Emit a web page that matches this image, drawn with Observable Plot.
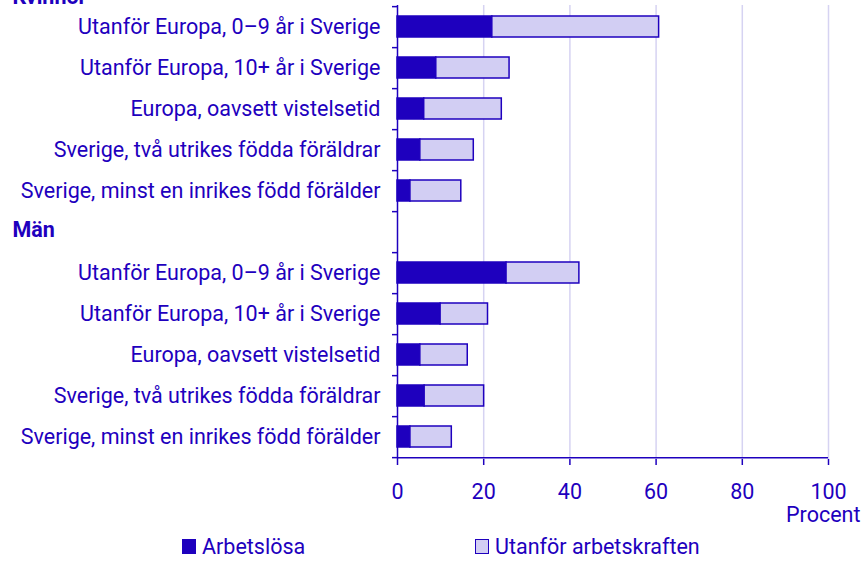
<!DOCTYPE html>
<html>
<head>
<meta charset="utf-8">
<script src="https://cdn.jsdelivr.net/npm/d3@7"></script>
<script src="https://cdn.jsdelivr.net/npm/@observablehq/plot@0.6"></script>
<style>
  html, body { margin: 0; padding: 0; background: white; }
  body { width: 864px; height: 562px; overflow: hidden; font-family: Roboto, sans-serif; color: #1e00be; }
  .legend { position: relative; height: 32px; font-size: 21.5px; }
  .item { position: absolute; top: 0; display: flex; align-items: center; height: 32px; }
  .sw { width: 12px; height: 13px; border: 1.5px solid #1e00be; margin-right: 6px; }
</style>
</head>
<body>
<div id="chart"></div>
<div class="legend" id="legend"></div>
<script>
const categories = [
  "Utanför Europa, 0–9 år i Sverige",
  "Utanför Europa, 10+ år i Sverige",
  "Europa, oavsett vistelsetid",
  "Sverige, två utrikes födda föräldrar",
  "Sverige, minst en inrikes född förälder"
];
const groups = ["Kvinnor", "Män"];
const series = ["Arbetslösa", "Utanför arbetskraften"];
const womenUnemployed = [22.0, 9.0, 6.2, 5.3, 3.0];
const womenOutside    = [38.7, 17.0, 18.0, 12.4, 11.8];
const menUnemployed   = [25.3, 10.0, 5.3, 6.3, 3.0];
const menOutside      = [16.9, 11.0, 11.0, 13.8, 9.6];
const xTicks = [0, 20, 40, 60, 80, 100];

const dark = "#1e00be";
const light = "#d2cef3";
const grid = "#d6d3f2";
const fs = 21.5;

const rows = [];
const catKeys = [];
const data = [];
const groupVals = [[womenUnemployed, womenOutside], [menUnemployed, menOutside]];
groups.forEach((g, gi) => {
  rows.push(g);
  categories.forEach((c, ci) => {
    const key = g + "|" + c;
    rows.push(key);
    catKeys.push(key);
    data.push({key, series: series[0], value: groupVals[gi][0][ci]});
    data.push({key, series: series[1], value: groupVals[gi][1][ci]});
  });
});

const W = 864, H = 530, mt = -36.3, mb = 71, ml = 397, mr = 36;
const step = (H - mb - mt) / rows.length;

const chart = Plot.plot({
  width: W, height: H,
  marginTop: mt, marginBottom: mb, marginLeft: ml, marginRight: mr,
  style: {fontFamily: "Roboto, sans-serif", fontSize: fs + "px", color: dark, background: "white", overflow: "visible"},
  x: {domain: [0, 100], label: null},
  y: {domain: rows, padding: 0, label: null},
  color: {domain: series, range: [dark, light]},
  marks: [
    Plot.ruleX(xTicks.slice(1), {stroke: grid, strokeWidth: 1.5, insetTop: step}),
    Plot.barX(data, {x: "value", y: "key", fill: "series", stroke: dark, strokeWidth: 1.5, insetTop: 10, insetBottom: 10}),
    Plot.ruleX([0], {stroke: dark, strokeWidth: 1.5, insetTop: step}),
    Plot.ruleY([rows[rows.length - 1]], {stroke: dark, strokeWidth: 1.5, dy: step / 2}),
    Plot.axisY({ticks: rows, tickSize: 5, text: null, dy: step / 2, strokeWidth: 1.5, label: null}),
    Plot.axisY({ticks: catKeys, tickSize: 0, tickPadding: 17, tickFormat: k => k.split("|")[1], fontSize: fs, label: null}),
    Plot.text([groups[0]], {y: d => d, frameAnchor: "left", textAnchor: "start", dx: -385, dy: 11.6, fontWeight: "bold", fontSize: fs, fill: dark}),
    Plot.text([groups[1]], {y: d => d, frameAnchor: "left", textAnchor: "start", dx: -385, dy: -1.5, fontWeight: "bold", fontSize: fs, fill: dark}),
    Plot.axisX({ticks: xTicks, tickSize: 6, tickPadding: 18, strokeWidth: 1.5, fontSize: fs, label: null}),
    Plot.text(["Procent"], {frameAnchor: "bottom-right", textAnchor: "end", lineAnchor: "bottom", dx: 32, dy: 62, fontSize: fs, fill: dark})
  ]
});
document.getElementById("chart").appendChild(chart);

const legend = document.getElementById("legend");
const lefts = [182, 475];
series.forEach((s, i) => {
  const item = document.createElement("div");
  item.className = "item";
  item.style.left = lefts[i] + "px";
  const sw = document.createElement("div");
  sw.className = "sw";
  sw.style.background = i === 0 ? dark : light;
  const t = document.createElement("span");
  t.textContent = s;
  item.appendChild(sw);
  item.appendChild(t);
  legend.appendChild(item);
});
</script>
</body>
</html>
